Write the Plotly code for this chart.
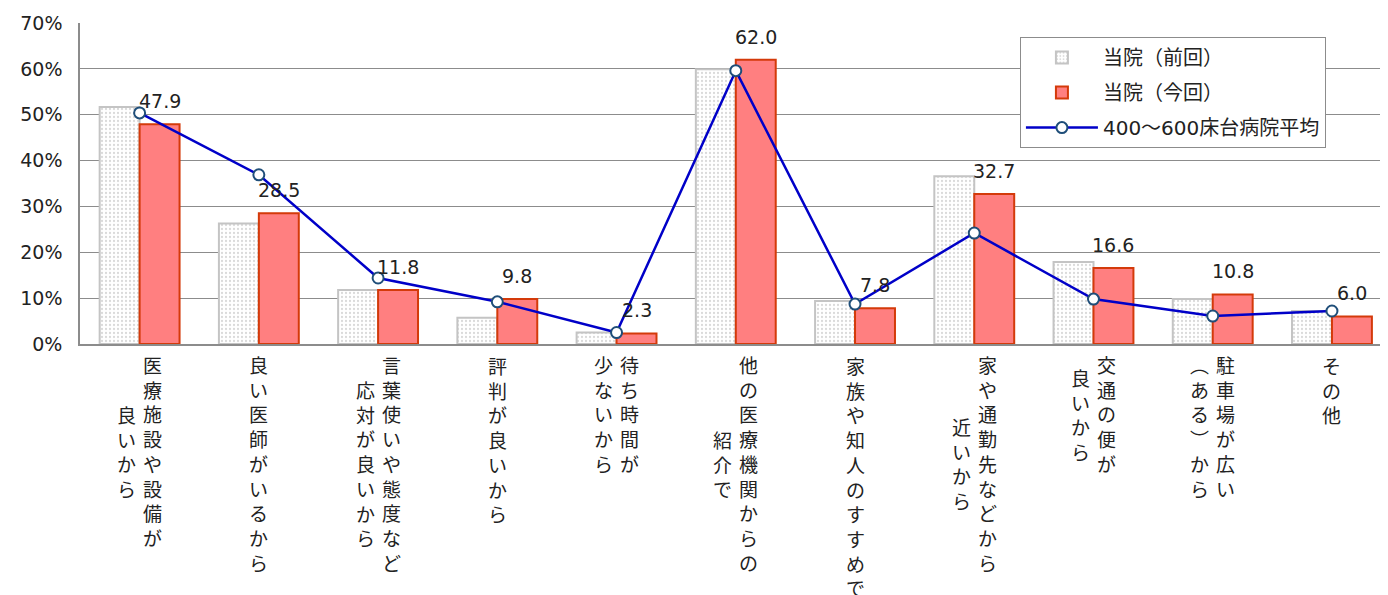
import plotly.graph_objects as go

categories = ["医療施設や設備が良いから", "良い医師がいるから", "言葉使いや態度など応対が良いから",
              "評判が良いから", "待ち時間が少ないから", "他の医療機関からの紹介で",
              "家族や知人のすすめで", "家や通勤先などから近いから", "交通の便が良いから",
              "駐車場が広い（ある）から", "その他"]
# vertical label columns, first column is right-most
label_columns = [["医療施設や設備が", "良いから"], ["良い医師がいるから"],
                 ["言葉使いや態度など", "応対が良いから"], ["評判が良いから"],
                 ["待ち時間が", "少ないから"], ["他の医療機関からの", "紹介で"],
                 ["家族や知人のすすめで"], ["家や通勤先などから", "近いから"],
                 ["交通の便が", "良いから"], ["駐車場が広い", "︵ある︶から"], ["その他"]]

prev_values = [51.7, 26.3, 11.8, 5.7, 2.5, 59.9, 9.4, 36.6, 17.9, 9.8, 7.2]
curr_values = [47.9, 28.5, 11.8, 9.8, 2.3, 62.0, 7.8, 32.7, 16.6, 10.8, 6.0]
avg_values = [50.4, 36.9, 14.4, 9.2, 2.5, 59.6, 8.7, 24.2, 9.8, 6.1, 7.2]

series_names = ["当院（前回）", "当院（今回）", "400～600床台病院平均"]
y_ticks = [0, 10, 20, 30, 40, 50, 60, 70]
y_tick_labels = ["0%", "10%", "20%", "30%", "40%", "50%", "60%", "70%"]

FONT = "DejaVu Sans, Noto Sans CJK JP"
JFONT = "Noto Sans CJK JP"
TXT = "#222222"

fig = go.Figure()
fig.add_trace(go.Bar(
    x=categories, y=prev_values, name=series_names[0], legendgroup="a",
    marker=dict(color="white", line=dict(color="#c4c4c4", width=2),
                pattern=dict(shape=".", fgcolor="#b4b4b4", bgcolor="white",
                             size=4, solidity=0.25)),
))
fig.add_trace(go.Bar(
    x=categories, y=curr_values, name=series_names[1], legendgroup="b",
    marker=dict(color="#ff7f80", line=dict(color="#d43a0a", width=2)),
))
fig.add_trace(go.Scatter(
    x=categories, y=avg_values, name=series_names[2], legendgroup="c",
    mode="lines+markers",
    line=dict(color="#0000c8", width=2.5),
    marker=dict(symbol="circle", size=11, color="white",
                line=dict(color="#1f4e79", width=2)),
))

annotations = []
for cat, v in zip(categories, curr_values):
    annotations.append(dict(x=cat, y=v, xref="x", yref="y", text=f"{v:.1f}",
                            showarrow=False, xshift=20, yshift=23,
                            font=dict(family=FONT, size=19, color=TXT)))

LH = 24.7
COLW = 26
for cat, cols in zip(categories, label_columns):
    n = len(cols)
    maxlen = max(len(c) for c in cols)
    for i, col in enumerate(cols):
        annotations.append(dict(
            x=cat, y=0, xref="x", yref="paper",
            text="<br>".join(list(col)), showarrow=False,
            xanchor="center", yanchor="middle", align="center",
            xshift=((n - 1) / 2 - i) * COLW,
            yshift=-(21 + (maxlen - 1) / 2 * LH),
            font=dict(family=JFONT, size=19, color=TXT)))

fig.update_layout(
    width=1380, height=587,
    margin=dict(l=72, r=0, t=15, b=251),
    paper_bgcolor="white", plot_bgcolor="white",
    barmode="group", bargap=0.33, bargroupgap=0,
    font=dict(family=FONT, size=19, color=TXT),
    showlegend=True,
    legend=dict(x=0.7186, y=0.956, xanchor="left", yanchor="top",
                bgcolor="white", bordercolor="#8c8c8c", borderwidth=1,
                font=dict(family=FONT, size=20, color=TXT),
                tracegroupgap=6, itemwidth=72),
    annotations=annotations,
)
fig.update_xaxes(range=[-0.5, 10.47], showticklabels=False, ticks="",
                 showline=True, linecolor="#8c8c8c", linewidth=1.5,
                 showgrid=False, zeroline=False)
fig.update_yaxes(range=[0, 70], tickvals=y_ticks, ticktext=y_tick_labels, ticks="",
                 showline=True, linecolor="#8c8c8c", linewidth=1.5,
                 gridcolor="#8c8c8c", gridwidth=1, zeroline=False,
                 ticklabelstandoff=12,
                 tickfont=dict(family=FONT, size=19, color=TXT))

fig.write_html("out.html")
